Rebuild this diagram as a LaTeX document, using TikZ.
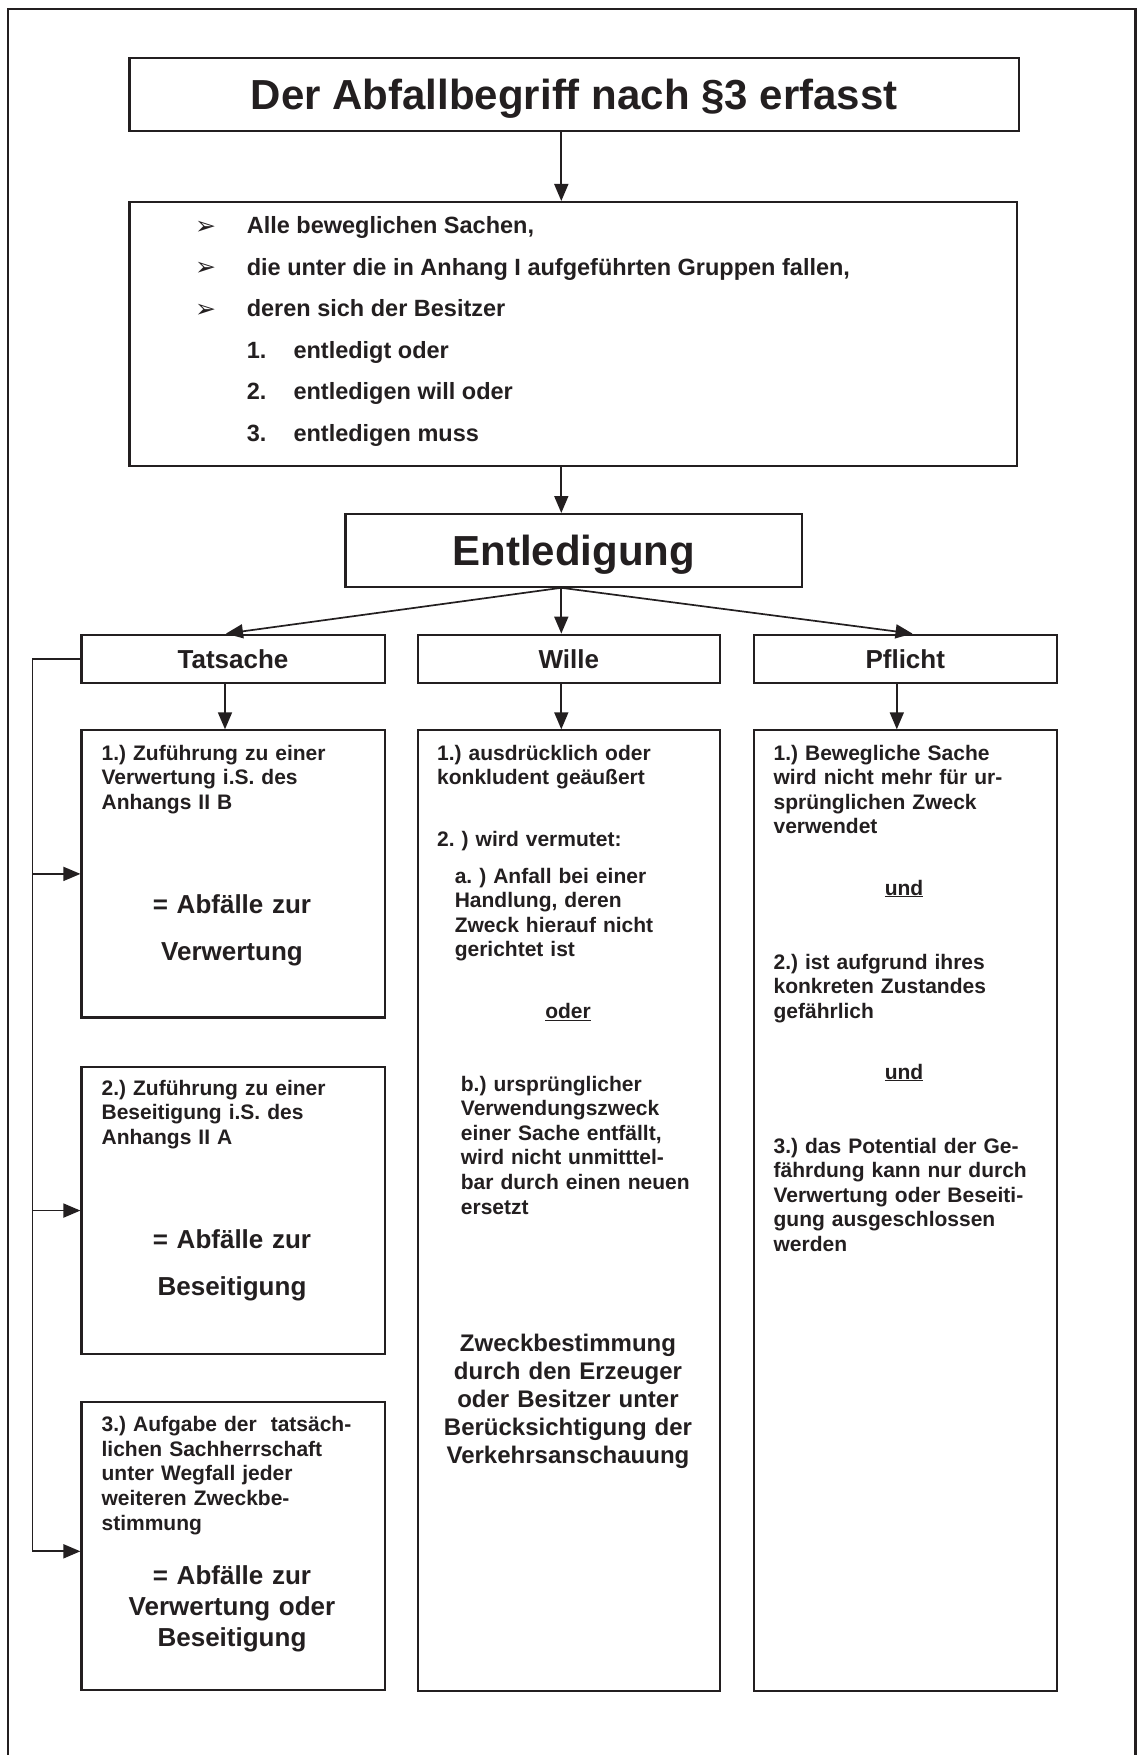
\documentclass[tikz,border=0pt]{standalone}
\usepackage{fontspec}
\setmainfont{Liberation Sans}
\newfontfamily\symfont{DejaVu Sans}
\usetikzlibrary{arrows.meta}
\definecolor{ink}{HTML}{231F20}
\frenchspacing
\begin{document}
\begin{tikzpicture}[x=1pt,y=-1pt,
  box/.style={draw=ink, line width=2.1pt, inner sep=0pt, anchor=north west, text=ink},
  conn/.style={draw=ink, line width=1.7pt, -{Triangle[length=17pt,width=14pt]}},
  small/.style={text=ink, inner sep=0pt, anchor=base west, align=left, text width=275pt,
    font=\fontsize{21}{24.6}\selectfont\bfseries\frenchspacing},
  smallc/.style={text=ink, inner sep=0pt, anchor=base,
    font=\fontsize{21}{24.6}\selectfont\bfseries},
  listtxt/.style={text=ink, inner sep=0pt, anchor=base west,
    font=\fontsize{23.5}{28}\selectfont\bfseries},
  bul/.style={text=ink, inner sep=0pt, anchor=base west, font=\symfont\fontsize{25}{28}\selectfont},
  midc/.style={text=ink, inner sep=0pt, anchor=base, align=center, text width=300pt,
    font=\fontsize{26}{47}\selectfont\bfseries},
  zweck/.style={text=ink, inner sep=0pt, anchor=base, align=center, text width=300pt,
    font=\fontsize{24}{28.05}\selectfont\bfseries},
  hdr/.style={box, font=\fontsize{26}{30}\selectfont\bfseries, text height=18.6pt, text depth=0pt},
  big/.style={box, font=\fontsize{42}{48}\selectfont\bfseries, text height=30pt, text depth=0pt}
]
\useasboundingbox (0,0) rectangle (1144,1755);
\fill[white] (0,0) rectangle (1144,1755);
% outer frame
\draw[ink, line width=2.2pt] (8,1755) -- (8,9.3) -- (1135.5,9.3) -- (1135.5,1755);

% boxes
\node[big, minimum width=889.6pt, minimum height=73pt] (title) at (128.4,57) {Der Abfallbegriff nach §3 erfasst};
\node[box, minimum width=887.6pt, minimum height=264pt] (list) at (128.4,201) {};
\node[big, minimum width=456.6pt, minimum height=72.7pt] (ent) at (344.4,513) {Entledigung};
\node[hdr, minimum width=303.1pt, minimum height=48.2pt] (tat) at (80.4,633.6) {Tatsache};
\node[hdr, minimum width=302.5pt, minimum height=48.2pt] (wil) at (416.5,633.6) {Wille};
\node[hdr, minimum width=303.2pt, minimum height=48.2pt] (pfl) at (752.6,633.6) {Pflicht};
\node[box, minimum width=303.1pt, minimum height=287.1pt] (t1) at (80.4,729.3) {};
\node[box, minimum width=303.1pt, minimum height=287pt] (t2) at (80.4,1066) {};
\node[box, minimum width=303.1pt, minimum height=287.5pt] (t3) at (80.4,1401) {};
\node[box, minimum width=302.5pt, minimum height=960.2pt] (wbig) at (416.5,729.3) {};
\node[box, minimum width=303.2pt, minimum height=960.2pt] (pbig) at (752.6,729.3) {};

% list text
\node[bul] (b1) at (195,234) {➢};
\node[bul] (b2) at (195,275.5) {➢};
\node[bul] (b3) at (195,317) {➢};
\node[listtxt] (l1) at (246.6,233.5) {Alle beweglichen Sachen,};
\node[listtxt] (l2) at (246.6,275) {die unter die in Anhang I aufgeführten Gruppen fallen,};
\node[listtxt] (l3) at (246.6,316.5) {deren sich der Besitzer};
\node[listtxt] (n1) at (246.6,358) {1.};
\node[listtxt] (n2) at (246.6,399.5) {2.};
\node[listtxt] (n3) at (246.6,441) {3.};
\node[listtxt] (l4) at (293.3,358) {entledigt oder};
\node[listtxt] (l5) at (293.3,399.5) {entledigen will oder};
\node[listtxt] (l6) at (293.3,441) {entledigen muss};

% Tatsache texts
\node[small] (t1a) at (101.4,760) {1.) Zuführung zu einer\\Verwertung i.S. des\\Anhangs II B};
\node[midc] (t1b) at (232,913) {= Abfälle zur\\Verwertung};
\node[small] (t2a) at (101.4,1095) {2.) Zuführung zu einer\\Beseitigung i.S. des\\Anhangs II A};
\node[midc] (t2b) at (232,1248) {= Abfälle zur\\Beseitigung};
\node[small] (t3a) at (101.4,1431.6) {3.) Aufgabe der\ \ tatsäch-\\lichen Sachherrschaft\\unter Wegfall jeder\\weiteren Zweckbe-\\stimmung};
\node[midc, font=\fontsize{26}{31.3}\selectfont\bfseries] (t3b) at (232,1584) {= Abfälle zur\\Verwertung oder\\Beseitigung};

% Wille texts
\node[small] (w1) at (437,760) {1.) ausdrücklich oder\\konkludent geäußert};
\node[small] (w2) at (437,846) {2. ) wird vermutet:};
\node[small] (w3) at (454.6,883) {a. ) Anfall bei einer\\Handlung, deren\\Zweck hierauf nicht\\gerichtet ist};
\node[smallc] (w4) at (568,1018.5) {\underline{oder}};
\node[small] (w5) at (460.7,1091) {b.) ursprünglicher\\Verwendungszweck\\einer Sache entfällt,\\wird nicht unmitttel-\\bar durch einen neuen\\ersetzt};
\node[zweck] (w6) at (568,1351) {Zweckbestimmung\\durch den Erzeuger\\oder Besitzer unter\\Berücksichtigung der\\Verkehrsanschauung};

% Pflicht texts
\node[small] (p1) at (773.4,760) {1.) Bewegliche Sache\\wird nicht mehr für ur-\\sprünglichen Zweck\\verwendet};
\node[smallc] (p2) at (904,895) {\underline{und}};
\node[small] (p3) at (773.4,969) {2.) ist aufgrund ihres\\konkreten Zustandes\\gefährlich};
\node[smallc] (p4) at (904,1079) {\underline{und}};
\node[small] (p5) at (773.4,1153) {3.) das Potential der Ge-\\fährdung kann nur durch\\Verwertung oder Beseiti-\\gung ausgeschlossen\\werden};

% connectors
\coordinate (ax) at (561.3,0);
\coordinate (tx) at (226,0);
\coordinate (px) at (912.5,0);
\coordinate (tdx) at (225,0);
\coordinate (pdx) at (896.8,0);
\coordinate (fb) at (32.5,0);
\draw[conn] (title.south -| ax) -- (list.north -| ax);
\draw[conn] (list.south -| ax) -- (ent.north -| ax);
\draw[conn] (ent.south -| ax) -- (wil.north -| ax);
\draw[conn] (ent.south -| ax) -- (tat.north -| tx);
\draw[conn] (ent.south -| ax) -- (pfl.north -| px);
\draw[conn] (tat.south -| tdx) -- (t1.north -| tdx);
\draw[conn] (wil.south -| ax) -- (wbig.north -| ax);
\draw[conn] (pfl.south -| pdx) -- (pbig.north -| pdx);
\coordinate (c3) at ([yshift=-150.3pt]t3.north west);
\draw[conn] (tat.west) -- (tat.west -| fb) -- (fb |- c3) -- (c3);
\draw[conn] (fb |- t1.west) -- (t1.west);
\draw[conn] (fb |- t2.west) -- (t2.west);
\end{tikzpicture}
\end{document}
